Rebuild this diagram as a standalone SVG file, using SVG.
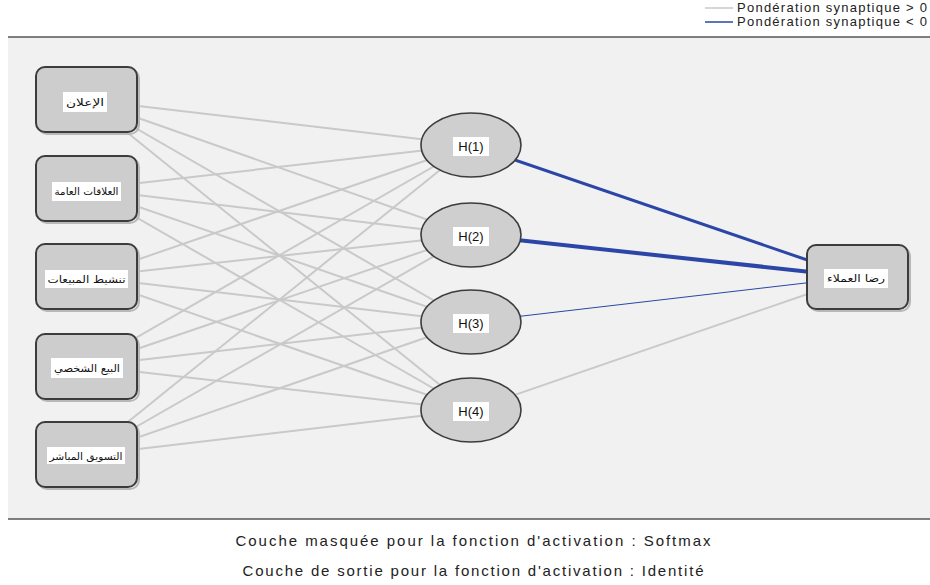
<svg xmlns="http://www.w3.org/2000/svg" width="930" height="585" viewBox="0 0 930 585">
<style>
.box{fill:#cdcdcd;stroke:#3c3c3c;stroke-width:2}
.shadow{fill:none;stroke:#b8b8b8;stroke-width:2}
.ell{fill:#cfcfcf;stroke:#3c3c3c;stroke-width:1.6}
.lab{fill:#ffffff}
.ar{font-family:"DejaVu Sans",sans-serif;font-size:10px;fill:#111;text-anchor:middle}
.h{font-family:"Liberation Sans",Arial,sans-serif;font-size:13px;fill:#111;text-anchor:middle}
.pos{stroke:#c9c9c9;stroke-width:2;fill:none}
.neg{stroke:#2b46a6;fill:none}
.leg{font-family:"Liberation Sans",Arial,sans-serif;font-size:13px;fill:#222}
.cap{font-family:"Liberation Sans",Arial,sans-serif;font-size:15px;fill:#222;text-anchor:middle}
</style>
<rect x="0" y="0" width="930" height="585" fill="#ffffff"/>
<rect x="8" y="37" width="922" height="482" fill="#f1f1f1"/>
<line x1="8" y1="37" x2="930" y2="37" stroke="#555" stroke-width="1.5"/>
<line x1="8" y1="519" x2="930" y2="519" stroke="#555" stroke-width="1.5"/>

<g id="legend">
<line x1="705" y1="8" x2="733" y2="8" stroke="#c9c9c9" stroke-width="1.5"/>
<text class="leg" x="737" y="12" textLength="190" lengthAdjust="spacing">Pondération synaptique &gt; 0</text>
<line x1="705" y1="22" x2="733" y2="22" stroke="#2b46a6" stroke-width="1.5"/>
<text class="leg" x="737" y="26" textLength="190" lengthAdjust="spacing">Pondération synaptique &lt; 0</text>
</g>

<g id="connectors">
<line class="pos" x1="87" y1="100" x2="471" y2="145"/>
<line class="pos" x1="87" y1="100" x2="471" y2="235"/>
<line class="pos" x1="87" y1="100" x2="471" y2="322"/>
<line class="pos" x1="87" y1="100" x2="471" y2="410"/>
<line class="pos" x1="87" y1="189" x2="471" y2="145"/>
<line class="pos" x1="87" y1="189" x2="471" y2="235"/>
<line class="pos" x1="87" y1="189" x2="471" y2="322"/>
<line class="pos" x1="87" y1="189" x2="471" y2="410"/>
<line class="pos" x1="87" y1="277" x2="471" y2="145"/>
<line class="pos" x1="87" y1="277" x2="471" y2="235"/>
<line class="pos" x1="87" y1="277" x2="471" y2="322"/>
<line class="pos" x1="87" y1="277" x2="471" y2="410"/>
<line class="pos" x1="87" y1="366" x2="471" y2="145"/>
<line class="pos" x1="87" y1="366" x2="471" y2="235"/>
<line class="pos" x1="87" y1="366" x2="471" y2="322"/>
<line class="pos" x1="87" y1="366" x2="471" y2="410"/>
<line class="pos" x1="87" y1="455" x2="471" y2="145"/>
<line class="pos" x1="87" y1="455" x2="471" y2="235"/>
<line class="pos" x1="87" y1="455" x2="471" y2="322"/>
<line class="pos" x1="87" y1="455" x2="471" y2="410"/>
<line class="neg" stroke-width="3" x1="471" y1="145" x2="857" y2="277"/>
<line class="neg" stroke-width="4" x1="471" y1="235" x2="857" y2="277"/>
<line class="neg" stroke-width="1" x1="471" y1="322" x2="857" y2="277"/>
<line class="pos" stroke-width="1.2" x1="471" y1="410" x2="857" y2="277"/>
</g>

<g id="in1">
<rect class="shadow" x="38" y="69" width="101" height="65" rx="9"/>
<rect class="box" x="36" y="67" width="101" height="65" rx="9"/>
<rect class="lab" x="63" y="92" width="44" height="20"/>
<text class="ar" x="85" y="106" textLength="38" lengthAdjust="spacingAndGlyphs">الإعلان</text>
</g>
<g id="in2">
<rect class="shadow" x="38" y="158" width="101" height="65" rx="9"/>
<rect class="box" x="36" y="156" width="101" height="65" rx="9"/>
<rect class="lab" x="52" y="182" width="69" height="19"/>
<text class="ar" x="86.5" y="195" textLength="64" lengthAdjust="spacingAndGlyphs">العلاقات العامة</text>
</g>
<g id="in3">
<rect class="shadow" x="38" y="246" width="101" height="65" rx="9"/>
<rect class="box" x="36" y="244" width="101" height="65" rx="9"/>
<rect class="lab" x="45" y="270" width="83" height="18"/>
<text class="ar" x="86.5" y="283" textLength="78" lengthAdjust="spacingAndGlyphs">تنشيط المبيعات</text>
</g>
<g id="in4">
<rect class="shadow" x="38" y="336" width="101" height="65" rx="9"/>
<rect class="box" x="36" y="334" width="101" height="65" rx="9"/>
<rect class="lab" x="51" y="358" width="72" height="20"/>
<text class="ar" x="87" y="372" textLength="66" lengthAdjust="spacingAndGlyphs">البيع الشخصي</text>
</g>
<g id="in5">
<rect class="shadow" x="38" y="424" width="101" height="65" rx="9"/>
<rect class="box" x="36" y="422" width="101" height="65" rx="9"/>
<rect class="lab" x="47" y="447" width="78" height="17"/>
<text class="ar" x="86" y="460" textLength="73" lengthAdjust="spacingAndGlyphs">التسويق المباشر</text>
</g>

<g id="h1">
<ellipse class="ell" cx="471" cy="145" rx="50" ry="32"/>
<rect class="lab" x="453" y="137" width="36" height="19"/>
<text class="h" x="471" y="151">H(1)</text>
</g>
<g id="h2">
<ellipse class="ell" cx="471" cy="235" rx="50" ry="32"/>
<rect class="lab" x="453" y="227" width="36" height="19"/>
<text class="h" x="471" y="241">H(2)</text>
</g>
<g id="h3">
<ellipse class="ell" cx="471" cy="322" rx="50" ry="32"/>
<rect class="lab" x="453" y="314" width="36" height="19"/>
<text class="h" x="471" y="328">H(3)</text>
</g>
<g id="h4">
<ellipse class="ell" cx="471" cy="410" rx="50" ry="32"/>
<rect class="lab" x="453" y="402" width="36" height="19"/>
<text class="h" x="471" y="416">H(4)</text>
</g>

<g id="out1">
<rect class="shadow" x="809" y="247" width="101" height="64" rx="9"/>
<rect class="box" x="807" y="245" width="101" height="64" rx="9"/>
<rect class="lab" x="824" y="269" width="64" height="19"/>
<text class="ar" x="856" y="282" textLength="58" lengthAdjust="spacingAndGlyphs">رضا العملاء</text>
</g>

<g id="captions">
<text class="cap" x="473" y="546" textLength="475" lengthAdjust="spacing">Couche masquée pour la fonction d'activation : Softmax</text>
<text class="cap" x="473" y="576" textLength="461" lengthAdjust="spacing">Couche de sortie pour la fonction d'activation : Identité</text>
</g>
</svg>
